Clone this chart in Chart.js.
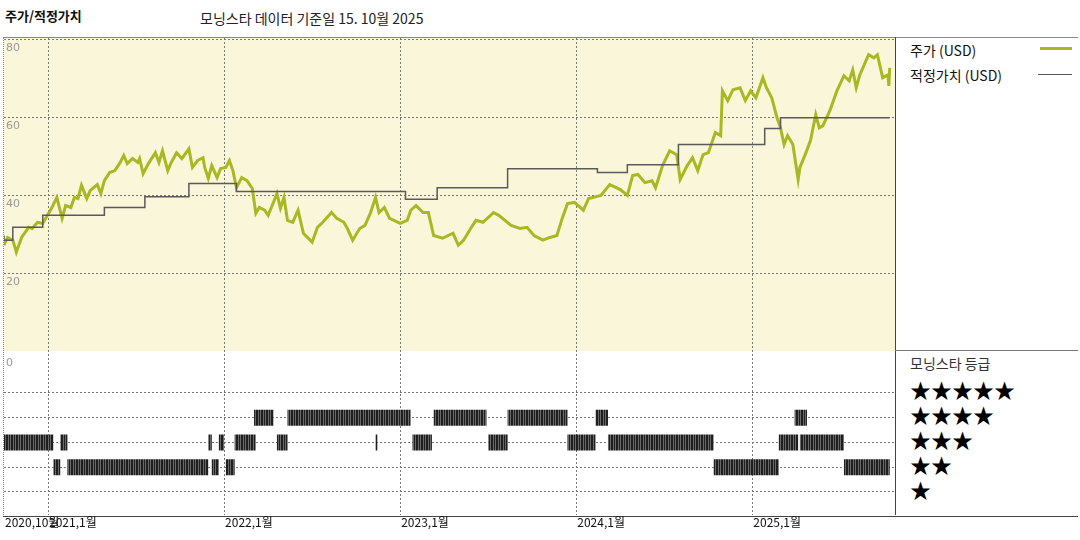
<!DOCTYPE html>
<html><head><meta charset="utf-8">
<script src="https://cdn.jsdelivr.net/npm/chart.js@4"></script>
<style>
body{margin:0;width:1080px;height:540px;background:#fff;font-family:"Noto Sans CJK KR",sans-serif;position:relative;overflow:hidden}
.abs{position:absolute}
#c1{left:4px;top:38px}
#c2{left:4px;top:350px}
.txt{position:absolute;white-space:nowrap;color:#111}
</style></head><body>
<div class="txt" style="left:5px;top:6px;font-size:13px;font-weight:bold">주가/적정가치</div>
<div class="txt" style="left:200px;top:8px;font-size:14px;color:#222">모닝스타 데이터 기준일 15. 10월 2025</div>
<div class="abs" style="left:3px;top:37px;width:1075px;height:478px;border-top:1px solid #888;border-bottom:1px solid #444"></div>
<div class="abs" style="left:3px;top:37px;width:0;height:478px;border-left:1px dotted #888"></div>
<div class="abs" style="left:895px;top:37px;width:0;height:478px;border-left:1px solid #444"></div>
<div class="abs" style="left:3px;top:350px;width:1075px;height:0;border-top:1px solid #777"></div>
<div class="txt" style="left:910px;top:40px;font-size:14px">주가 (USD)</div>
<div class="abs" style="left:1040px;top:47px;width:32px;height:3px;background:#a9b722"></div>
<div class="txt" style="left:910px;top:65px;font-size:14px">적정가치 (USD)</div>
<div class="abs" style="left:1038px;top:74px;width:34px;height:1px;background:#555"></div>
<div class="txt" style="left:910px;top:353px;font-size:14px;color:#333">모닝스타 등급</div>
<div class="txt" style="left:910px;top:377px;font-size:21px;line-height:25px;color:#000">★★★★★<br>★★★★<br>★★★<br>★★<br>★</div>
<canvas id="c1" class="abs" width="891" height="313"></canvas>
<canvas id="c2" class="abs" width="891" height="190"></canvas>
<script>
const X_MIN = 2020.75, X_MAX = 2025.81;
const yearTicks = [2021, 2022, 2023, 2024, 2025];
const xLabels = ['2020,10월', '2021,1월', '2022,1월', '2023,1월', '2024,1월', '2025,1월'];
const xLabelPos = [2020.75, 2021, 2022, 2023, 2024, 2025];
const priceTicks = [20, 40, 60, 80];
const ratingTicks = [1, 2, 3, 4, 5];

const priceT = [2020.75,2020.77,2020.80,2020.82,2020.85,2020.87,2020.89,2020.91,2020.94,2020.97,2020.99,2021.02,2021.05,2021.08,2021.10,2021.13,2021.15,2021.17,2021.19,2021.22,2021.24,2021.28,2021.30,2021.32,2021.35,2021.38,2021.41,2021.43,2021.45,2021.48,2021.51,2021.52,2021.54,2021.57,2021.61,2021.63,2021.65,2021.68,2021.70,2021.73,2021.76,2021.80,2021.82,2021.85,2021.88,2021.89,2021.91,2021.93,2021.96,2021.98,2022.01,2022.03,2022.05,2022.07,2022.10,2022.13,2022.16,2022.18,2022.20,2022.23,2022.25,2022.28,2022.30,2022.32,2022.34,2022.36,2022.39,2022.42,2022.45,2022.50,2022.53,2022.56,2022.61,2022.64,2022.68,2022.70,2022.73,2022.77,2022.80,2022.83,2022.86,2022.88,2022.91,2022.94,2023.00,2023.04,2023.06,2023.09,2023.13,2023.16,2023.19,2023.24,2023.30,2023.33,2023.36,2023.40,2023.43,2023.47,2023.53,2023.56,2023.63,2023.68,2023.72,2023.76,2023.81,2023.85,2023.89,2023.92,2023.95,2023.99,2024.04,2024.07,2024.14,2024.19,2024.25,2024.29,2024.32,2024.35,2024.39,2024.43,2024.45,2024.49,2024.53,2024.57,2024.59,2024.63,2024.66,2024.69,2024.72,2024.75,2024.79,2024.82,2024.83,2024.86,2024.89,2024.93,2024.96,2024.99,2025.02,2025.06,2025.08,2025.11,2025.14,2025.16,2025.18,2025.20,2025.23,2025.26,2025.27,2025.30,2025.33,2025.36,2025.38,2025.40,2025.44,2025.48,2025.52,2025.55,2025.57,2025.59,2025.61,2025.66,2025.69,2025.71,2025.74,2025.77,2025.775,2025.78];
const priceV = [27.2,29.2,28.5,25.4,29.2,30.5,31.8,31.5,33.1,32.8,34.4,36.7,39.5,34.1,37.4,36.9,39.5,39.2,42.6,39.2,41.3,42.8,40.5,43.8,45.9,46.4,48.5,50.3,48.2,49.5,48.5,49.5,45.6,48.2,51,48.5,51.5,46.4,48.5,51,49.5,52,47.2,49,49.7,47.2,44.4,47.7,44.6,46.9,47.2,49,46.4,42,44.6,43.8,41.8,35.4,36.9,36.2,34.9,38.2,40.5,36.7,39.5,33.6,33.1,36.2,30.3,28,31.8,33.1,35.6,34.1,33.1,31.5,28.5,31.5,32.3,35.4,39.5,35.6,36.9,34.1,32.8,33.6,36.2,37.4,35.6,35.6,29.7,29,30.3,27.2,28.5,31.5,33.6,33.1,35.6,34.9,32.3,31.5,31.8,29.7,28.5,29.2,29.7,34.1,37.9,38.2,36.2,39.2,40,42.8,41.5,40,45.1,45.4,43.3,43.8,42,47.7,51.5,50.5,44.1,47.7,49.7,46.4,50.5,51,56.2,55.4,66.9,64.4,67.2,67.7,64.4,66.9,65.1,70.3,67.7,65.1,60,57.4,53.1,55.4,53.1,44.1,47.2,50.5,54.1,60.8,57.4,57.9,61.8,66.9,70.8,69.5,72.3,67.7,71,76.2,75.4,76.2,70.3,71,68.2,72.8];

const fairT = [2020.75,2020.80,2020.97,2021.32,2021.55,2021.80,2022.07,2023.03,2023.21,2023.61,2024.12,2024.29,2024.58,2025.07,2025.16,2025.44,2025.78];
const fairV = [29.7,28.5,31.8,34.9,36.9,39.7,43.1,41,39,42,46.9,45.9,47.9,53.1,57.2,60,60];

// rating periods [start, end]
const rating4 = [[2022.17,2022.28],[2022.36,2023.06],[2023.19,2023.49],[2023.61,2023.95],[2024.11,2024.18],[2025.24,2025.31]];
const rating3 = [[2020.75,2021.03],[2021.07,2021.11],[2021.91,2021.93],[2021.97,2022.00],[2022.06,2022.18],[2022.30,2022.36],[2022.86,2022.87],[2023.07,2023.18],[2023.50,2023.61],[2023.95,2024.11],[2024.18,2024.78],[2025.15,2025.26],[2025.27,2025.52]];
const rating2 = [[2021.03,2021.07],[2021.11,2021.91],[2021.93,2021.97],[2022.01,2022.06],[2024.78,2025.15],[2025.52,2025.78]];

const GRID = { color: '#777', lineWidth: 1, drawTicks: false };
const BORDER = { display: false, dash: [2, 2] };

function segs(list, r) {
    const out = [];
    list.forEach(([a, b]) => { out.push({x: a, y: r}, {x: b, y: r}, {x: b, y: null}); });
    return out;
}

function stripes() {
    const c = document.createElement('canvas');
    c.width = 5; c.height = 4;
    const g = c.getContext('2d');
    g.fillStyle = '#6a6a6a'; g.fillRect(0, 0, 5, 4);
    g.fillStyle = '#1e1e1e'; g.fillRect(0, 0, 1, 4); g.fillRect(2, 0, 2, 4);
    return g.createPattern(c, 'repeat');
}

const bgPlugin = {
    id: 'bg',
    beforeDraw(chart, args, opts) {
        if (!opts.color) return;
        const a = chart.chartArea, ctx = chart.ctx;
        ctx.save(); ctx.fillStyle = opts.color;
        ctx.fillRect(a.left, a.top, a.right - a.left, a.bottom - a.top);
        ctx.restore();
    }
};

const xScale = {
    type: 'linear', min: X_MIN, max: X_MAX,
    afterBuildTicks: s => { s.ticks = yearTicks.map(v => ({ value: v })); },
    ticks: { display: false },
    grid: GRID, border: BORDER,
};

new Chart(document.getElementById('c1'), {
    type: 'line',
    data: {
        datasets: [
            { data: fairT.map((t, i) => ({ x: t, y: fairV[i] })), borderColor: '#5a5a5a', borderWidth: 1.5, stepped: 'after', pointRadius: 0 },
            { data: priceT.map((t, i) => ({ x: t, y: priceV[i] })), borderColor: '#a9b722', borderWidth: 3, pointRadius: 0, tension: 0 },
        ]
    },
    options: {
        responsive: false, animation: false, devicePixelRatio: 1,
        layout: { padding: 0 },
        plugins: { legend: { display: false }, tooltip: { enabled: false }, bg: { color: '#faf6da' } },
        scales: {
            x: xScale,
            y: {
                min: 0, max: 80.5,
                afterBuildTicks: s => { s.ticks = priceTicks.map(v => ({ value: v })); },
                ticks: { display: false },
                grid: GRID, border: BORDER,
            },
        },
    },
    plugins: [bgPlugin, {
        id: 'ylab',
        afterDraw(chart) {
            const ctx = chart.ctx, y = chart.scales.y;
            ctx.save(); ctx.fillStyle = '#999'; ctx.font = '11px "DejaVu Sans"'; ctx.textBaseline = 'top';
            priceTicks.forEach(v => ctx.fillText(String(v), 2, Math.max(y.getPixelForValue(v) + 3, 4)));
            ctx.restore();
        }
    }],
});

const pat = stripes();
const barDs = (list, r) => ({ data: segs(list, r), borderColor: pat, borderWidth: 16, borderCapStyle: 'butt', pointRadius: 0, spanGaps: false });

new Chart(document.getElementById('c2'), {
    type: 'line',
    data: { datasets: [barDs(rating4, 4), barDs(rating3, 3), barDs(rating2, 2)] },
    options: {
        responsive: false, animation: false, devicePixelRatio: 1,
        layout: { padding: { bottom: 25 } },
        plugins: { legend: { display: false }, tooltip: { enabled: false } },
        scales: {
            x: xScale,
            y: {
                min: 0.07, max: 6.73,
                afterBuildTicks: s => { s.ticks = ratingTicks.map(v => ({ value: v })); },
                ticks: { display: false },
                grid: GRID, border: BORDER,
            },
        },
    },
    plugins: [{
        id: 'xlab',
        beforeDatasetsDraw(chart) {
            const ctx = chart.ctx;
            ctx.save(); ctx.fillStyle = '#999'; ctx.font = '11px "DejaVu Sans"';
            ctx.fillText('0', 2, 16); ctx.restore();
        },
        afterDraw(chart) {
            const ctx = chart.ctx, x = chart.scales.x;
            ctx.save(); ctx.fillStyle = '#111'; ctx.font = '12px "Noto Sans CJK KR"'; ctx.textBaseline = 'top';
            xLabels.forEach((l, i) => ctx.fillText(l, x.getPixelForValue(xLabelPos[i]) + 1, chart.chartArea.bottom + 1));
            ctx.restore();
        }
    }],
});
</script>
</body></html>
